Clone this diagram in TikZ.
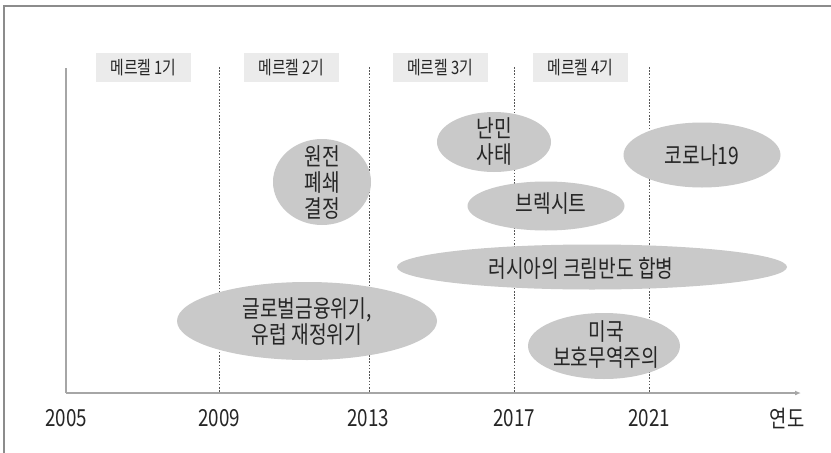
\documentclass[tikz,border=0pt]{standalone}
\usepackage{fontspec}
\setmainfont{Noto Sans CJK KR}[FakeStretch=0.8]
\usetikzlibrary{shapes.geometric,arrows.meta}
\definecolor{blobgray}{HTML}{C9C9C9}
\definecolor{boxgray}{HTML}{EBEBEB}
\definecolor{txt}{HTML}{262626}
\definecolor{axisgray}{HTML}{A6A6A6}
\definecolor{framegray}{HTML}{8C8C8C}
\definecolor{dashgray}{HTML}{555555}
\begin{document}
\begin{tikzpicture}[x=1pt,y=-1pt,
  blob/.style={ellipse, fill=blobgray, inner sep=0pt},
  etext/.style={text=txt, font=\fontsize{24}{26}\selectfont, align=center, inner sep=0pt},
  termbox/.style={fill=boxgray, text=txt, font=\fontsize{18.5}{20}\selectfont, minimum width=95pt, minimum height=29pt, inner sep=0pt},
  yearlabel/.style={text=txt, font=\fontsize{23.5}{25}\selectfont, inner sep=0pt},
  vline/.style={dashgray, line width=0.8pt, dash pattern=on 1.6pt off 1.6pt},
  axisline/.style={axisgray, line width=1.5pt},
]
\useasboundingbox (0,0) rectangle (831,453);
\fill[white] (0,0) rectangle (831,453);
% frame
\draw[framegray, line width=1.3pt] (4,453) -- (4,6) -- (831,6);

% dashed year lines
\foreach \i/\xx in {a/219,b/369,c/514,d/649}{
  \coordinate (t\i) at (\xx,67);
  \coordinate (b\i) at (\xx,393);
  \draw[vline] (t\i) -- (b\i);
}

% axes
\coordinate (ytop) at (66,68);
\coordinate (o) at (66,393);
\coordinate (xend) at (801,393);
\draw[axisline] (ytop) -- (o);
\draw[axisline, -{Latex[length=6pt,width=5pt]}] (o) -- (xend);

% year labels
\node[yearlabel] (y2005) at (66,418) {2005};
\node[yearlabel] (y2009) at (219,418) {2009};
\node[yearlabel] (y2013) at (368,418) {2013};
\node[yearlabel] (y2017) at (514,418) {2017};
\node[yearlabel] (y2021) at (649,418) {2021};
\node[yearlabel] (yunit) at (787,418) {연도};

% term boxes
\node[termbox] (m1) at (143.5,67.5) {메르켈 1기};
\node[termbox] (m2) at (291.5,67.5) {메르켈 2기};
\node[termbox] (m3) at (440,67.5) {메르켈 3기};
\node[termbox] (m4) at (580.5,67.5) {메르켈 4기};

% event ellipses
\node[blob, minimum width=98pt, minimum height=86pt] (e1) at (322,182) {};
\node[blob, minimum width=114pt, minimum height=60pt] (e2) at (494,142) {};
\node[blob, minimum width=157pt, minimum height=65pt] (e3) at (702,155) {};
\node[blob, minimum width=157pt, minimum height=49pt] (e4) at (546,206) {};
\node[blob, minimum width=390pt, minimum height=45pt] (e5) at (592,267) {};
\node[blob, minimum width=260pt, minimum height=78pt] (e6) at (307,321) {};
\node[blob, minimum width=152pt, minimum height=66pt] (e7) at (604,346) {};

\node[etext] (l1) at (322,183) {원전\\폐쇄\\결정};
\node[etext] (l2) at (494,142) {난민\\사태};
\node[etext] (l3) at (702,155) {코로나19};
\node[etext] (l4) at (551,204) {브렉시트};
\node[etext] (l5) at (581,268) {러시아의 크림반도 합병};
\node[etext] (l6) at (307,322) {글로벌금융위기,\\유럽 재정위기};
\node[etext] (l7) at (606,345) {미국\\보호무역주의};
\end{tikzpicture}
\end{document}
